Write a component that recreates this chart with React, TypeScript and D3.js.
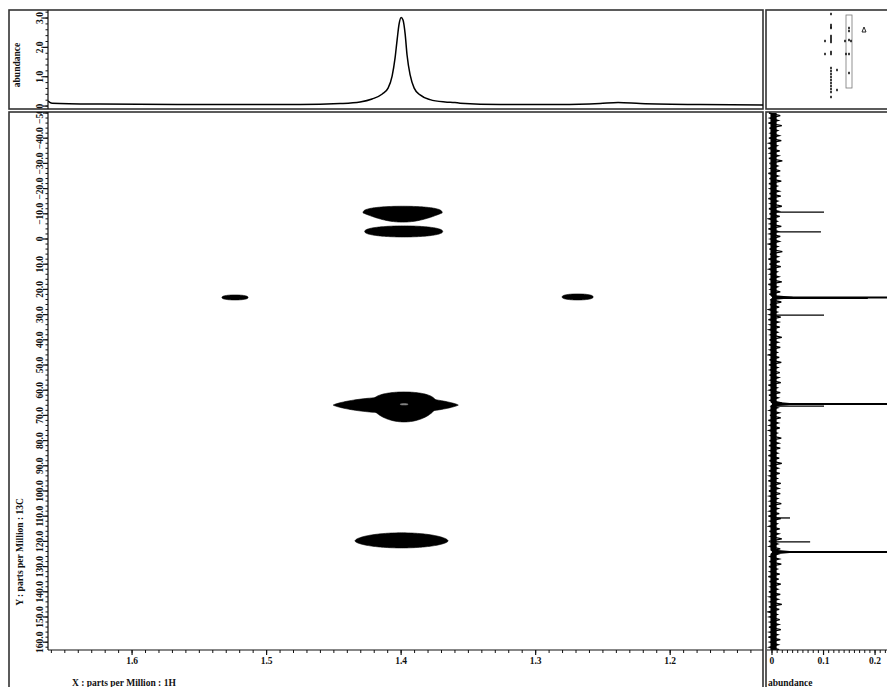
import React from "react";
import * as d3 from "d3";

// ---------------- data ----------------
const xTickValues = [1.6, 1.5, 1.4, 1.3, 1.2];
const xTickLabels = ["1.6", "1.5", "1.4", "1.3", "1.2"];
const yTickValues = [-50, -40, -30, -20, -10, 0, 10, 20, 30, 40, 50, 60, 70, 80, 90, 100, 110, 120, 130, 140, 150, 160];
const yTickLabels = ["−50.0", "−40.0", "−30.0", "−20.0", "−10.0", "0", "10.0", "20.0", "30.0", "40.0", "50.0", "60.0", "70.0", "80.0", "90.0", "100.0", "110.0", "120.0", "130.0", "140.0", "150.0", "160.0"];
const topTickValues = [0, 1, 2, 3];
const topTickLabels = ["0", "1.0", "2.0", "3.0"];
const projTickValues = [0, 0.1, 0.2];
const projTickLabels = ["0", "0.1", "0.2"];

// 1D 1H trace (ppm, abundance)
const traceX = [1.6625, 1.6595, 1.6238, 1.549, 1.475, 1.4454, 1.4305, 1.4216, 1.414, 1.4097, 1.4067, 1.4045, 1.403, 1.4015, 1.4, 1.3986, 1.397, 1.3956, 1.3933, 1.3903, 1.3859, 1.3785, 1.3673, 1.36, 1.3562, 1.3264, 1.2818, 1.2521, 1.2387, 1.2223, 1.1777, 1.131];
const traceY = [0.17, 0.1, 0.07, 0.05, 0.05, 0.085, 0.14, 0.24, 0.41, 0.61, 1.02, 1.64, 2.25, 2.8, 3.02, 2.93, 2.45, 1.74, 1.06, 0.61, 0.38, 0.22, 0.14, 0.12, 0.1, 0.05, 0.05, 0.085, 0.12, 0.085, 0.05, 0.04];

// 2D contour blobs (1H ppm, 13C ppm, half widths in ppm, shape exponents)
const contourX = [1.3989, 1.3981, 1.5235, 1.2688, 1.404, 1.3978, 1.3978, 1.3997];
const contourY = [-10.3, -3.0, 23.2, 23.0, 65.9, 66.3, 65.6, 119.8];
const contourHalfW = [0.0294, 0.029, 0.0097, 0.0115, 0.0465, 0.024, 0.003, 0.0346];
const contourTop = [2.7, 2.2, 1.0, 1.2, 3.2, 5.6, 0.3, 3.2];
const contourBottom = [3.6, 2.2, 1.0, 1.2, 3.2, 6.3, 0.3, 2.8];
const contourPowTop = [0.7, 0.9, 0.8, 0.8, 1.6, 0.6, 1, 1.15];
const contourPowBottom = [2.2, 0.9, 0.8, 0.8, 1.6, 1.3, 1, 1.15];
const contourFill = ["#000", "#000", "#000", "#000", "#000", "#000", "#888", "#000"];

// 13C projection peaks (ppm, abundance)
const projPeakPpm = [-10.7, -2.8, 23.2, 23.6, 30.2, 65.5, 66.3, 110.7, 120.2, 124.2];
const projPeakHeight = [0.101, 0.095, 0.6, 0.186, 0.101, 0.6, 0.101, 0.035, 0.074, 0.6];

// projection noise: upper and lower excursions, every 2 ppm from -50
const noiseHigh = [0.016, 0.012, 0.019, 0.011, 0.014, 0.018, 0.010, 0.015, 0.013, 0.020, 0.011, 0.016, 0.012, 0.018, 0.010, 0.014, 0.017, 0.011, 0.019, 0.013,
  0.015, 0.010, 0.018, 0.012, 0.016, 0.014, 0.011, 0.020, 0.012, 0.015, 0.017, 0.010, 0.013, 0.019, 0.011, 0.016, 0.012, 0.018, 0.014, 0.010,
  0.017, 0.013, 0.015, 0.011, 0.019, 0.012, 0.016, 0.010, 0.014, 0.018, 0.011, 0.015, 0.013, 0.017, 0.010, 0.016, 0.012, 0.019, 0.011, 0.014,
  0.017, 0.012, 0.015, 0.010, 0.018, 0.013, 0.016, 0.011, 0.014, 0.019, 0.012, 0.015, 0.010, 0.017, 0.013, 0.016, 0.011, 0.018, 0.012, 0.014,
  0.017, 0.010, 0.015, 0.013, 0.019, 0.011, 0.016, 0.012, 0.014, 0.018, 0.010, 0.015, 0.013, 0.017, 0.011, 0.016, 0.012, 0.019, 0.014, 0.010,
  0.015, 0.013, 0.017, 0.011, 0.016, 0.012, 0.014];
const noiseLow = [-0.006, -0.004, -0.007, -0.005, -0.003, -0.006, -0.005, -0.007, -0.004, -0.006, -0.005, -0.003, -0.007, -0.005, -0.006, -0.004, -0.005, -0.007, -0.003, -0.006,
  -0.005, -0.006, -0.004, -0.007, -0.005, -0.003, -0.006, -0.005, -0.004, -0.007, -0.005, -0.006, -0.004, -0.005, -0.007, -0.003, -0.006, -0.005, -0.004, -0.006,
  -0.005, -0.007, -0.004, -0.006, -0.003, -0.005, -0.006, -0.004, -0.007, -0.005, -0.006, -0.004, -0.005, -0.003, -0.007, -0.005, -0.006, -0.004, -0.006, -0.005,
  -0.004, -0.007, -0.005, -0.006, -0.003, -0.005, -0.006, -0.004, -0.007, -0.005, -0.004, -0.006, -0.005, -0.007, -0.003, -0.006, -0.005, -0.004, -0.006, -0.005,
  -0.007, -0.004, -0.006, -0.005, -0.003, -0.006, -0.005, -0.007, -0.004, -0.005, -0.006, -0.004, -0.007, -0.005, -0.003, -0.006, -0.005, -0.004, -0.006, -0.007,
  -0.005, -0.004, -0.006, -0.005, -0.007, -0.004, -0.005];

// small inset (pulse-sequence style marks), inset units
const insetDotU = [65, 65, 65, 65, 65, 65, 65, 65, 65, 65, 65, 65, 65, 65, 65, 65, 65, 65, 65, 65, 59, 59, 71, 71, 79, 85, 80, 83, 83, 83, 83, 83];
const insetDotV = [4, 15, 17, 18, 26, 28, 30, 32, 42, 44, 58, 61, 64, 67, 70, 73, 76, 79, 82, 87, 31, 44, 60, 80, 31, 31, 44, 18, 21, 30, 44, 63];

// ---------------- layout ----------------
const W = 887, H = 687;
const PL = 48, PR = 763, PT = 113, PB = 650;
const TT = 11, TB = 109;
const RL = 767, RR = 890;
const FONT = "'Liberation Serif', 'Times New Roman', serif";

export default function App() {
  const x = d3.scaleLinear().domain([1.6625, 1.131]).range([PL, PR]);
  const y = d3.scaleLinear().domain([-50, 163.1]).range([PT, PB]);
  const yTop = d3.scaleLinear().domain([-0.1, 3.24]).range([TB, TT]);
  const xProj = d3.scaleLinear().domain([-0.0097, 0.229]).range([RL, RR]);
  const insetX = d3.scaleLinear().domain([0, 124]).range([766, 890]);
  const insetY = d3.scaleLinear().domain([0, 99]).range([10, 109]);

  const tracePts = traceX.map((v, i) => [v, traceY[i]] as [number, number]);
  const traceLine = d3.line<[number, number]>()
    .x((d) => x(d[0]))
    .y((d) => yTop(d[1]))
    .curve(d3.curveMonotoneX)(tracePts) || "";

  const contourPath = (i: number) => {
    const n = 80;
    const top: [number, number][] = [];
    const bot: [number, number][] = [];
    for (let k = 0; k <= n; k++) {
      const t = Math.PI - (Math.PI * k) / n;
      const s = Math.max(0, Math.sin(t));
      const px = contourX[i] + contourHalfW[i] * Math.cos(t);
      top.push([x(px), y(contourY[i] - contourTop[i] * Math.pow(s, contourPowTop[i]))]);
      bot.push([x(px), y(contourY[i] + contourBottom[i] * Math.pow(s, contourPowBottom[i]))]);
    }
    const pts = top.concat(bot.reverse());
    return d3.line().curve(d3.curveLinearClosed)(pts) || "";
  };

  // zigzag noise trace
  const noisePts: [number, number][] = [];
  noiseHigh.forEach((v, i) => {
    noisePts.push([xProj(noiseLow[i]), y(-50 + 2 * i)]);
    noisePts.push([xProj(v), y(-49 + 2 * i)]);
  });
  const noisePath = d3.line()(noisePts) || "";
  const noiseCore = `M${xProj(-0.003)},${y(-50)} L${xProj(0.009)},${y(-50)} L${xProj(0.009)},${y(163.1)} L${xProj(-0.003)},${y(163.1)} Z`;

  const xMinor = d3.range(114, 167).map((v) => v / 100);
  const yMinor = d3.range(-50, 164, 2);
  const topMinor = d3.range(0, 17).map((v) => v / 5);
  const projMinor = d3.range(0, 23).map((v) => v / 100);

  const txt = { fontFamily: FONT, fontWeight: 700, fontSize: 9.5, fill: "#111" } as React.CSSProperties;
  const frame = { fill: "none", stroke: "#333", strokeWidth: 1.6 };

  return (
    <svg width={W} height={H} style={{ position: "absolute", left: 0, top: 0, background: "#fff" }}>
      <defs>
        <clipPath id="mainClip"><rect x={PL} y={PT - 1} width={PR - PL} height={PB - PT + 1} /></clipPath>
        <clipPath id="topClip"><rect x={PL} y={TT - 1} width={PR - PL} height={TB - TT + 1} /></clipPath>
        <clipPath id="projClip"><rect x={RL} y={PT - 1} width={RR - RL} height={PB - PT + 1} /></clipPath>
        <clipPath id="ylabClip"><rect x={0} y={112} width={PL} height={600} /></clipPath>
      </defs>
      <rect x={0} y={0} width={W} height={H} fill="#fff" />

      {/* frames */}
      <rect x={9} y={10} width={754} height={99} {...frame} />
      <rect x={9} y={112} width={754} height={600} {...frame} />
      <rect x={766} y={10} width={130} height={99} {...frame} />
      <rect x={766} y={112} width={130} height={600} {...frame} />

      {/* ---- top 1D panel ---- */}
      <line x1={PL} x2={PL} y1={10} y2={109} stroke="#111" strokeWidth={1.2} />
      {topMinor.map((v, i) => (
        <line key={"tm" + i} x1={PL - 2.5} x2={PL} y1={yTop(v)} y2={yTop(v)} stroke="#111" strokeWidth={1} />
      ))}
      {topTickValues.map((v, i) => (
        <g key={"tt" + i}>
          <line x1={PL - 5} x2={PL} y1={yTop(v)} y2={yTop(v)} stroke="#111" strokeWidth={1.2} />
          <text transform={`translate(43,${yTop(v)}) rotate(-90)`} textAnchor="middle" style={txt}>{topTickLabels[i]}</text>
        </g>
      ))}
      <text transform="translate(20,65) rotate(-90)" textAnchor="middle" style={txt}>abundance</text>
      <path d={traceLine} fill="none" stroke="#000" strokeWidth={1.5} clipPath="url(#topClip)" />

      {/* ---- main 2D panel ---- */}
      <g clipPath="url(#mainClip)">
        {contourX.map((_, i) => (
          <path key={"c" + i} d={contourPath(i)} fill={contourFill[i]} stroke={contourFill[i]} strokeWidth={0.6} />
        ))}
      </g>
      <line x1={PL} x2={PL} y1={112} y2={PB} stroke="#111" strokeWidth={1.2} />
      <line x1={PL} x2={PR} y1={PB} y2={PB} stroke="#111" strokeWidth={1.2} />
      {yMinor.map((v, i) => (
        <line key={"ym" + i} x1={PL - 2.5} x2={PL} y1={y(v)} y2={y(v)} stroke="#111" strokeWidth={1} />
      ))}
      <g clipPath="url(#ylabClip)">
        {yTickValues.map((v, i) => (
          <g key={"yt" + i}>
            <line x1={PL - 5} x2={PL} y1={y(v)} y2={y(v)} stroke="#111" strokeWidth={1.2} />
            <text transform={`translate(43,${y(v)}) rotate(-90)`} textAnchor="middle" style={txt}>{yTickLabels[i]}</text>
          </g>
        ))}
      </g>
      <text transform="translate(23,552) rotate(-90)" textAnchor="middle" style={txt}>Y : parts per Million : 13C</text>
      {xMinor.map((v, i) => (
        <line key={"xm" + i} x1={x(v)} x2={x(v)} y1={PB} y2={PB + 3} stroke="#111" strokeWidth={1} />
      ))}
      {xTickValues.map((v, i) => (
        <g key={"xt" + i}>
          <line x1={x(v)} x2={x(v)} y1={PB} y2={PB + 5} stroke="#111" strokeWidth={1.2} />
          <text x={x(v)} y={664} textAnchor="middle" style={txt}>{xTickLabels[i]}</text>
        </g>
      ))}
      <text x={72} y={686} style={txt}>X : parts per Million : 1H</text>

      {/* ---- right 13C projection ---- */}
      <g clipPath="url(#projClip)">
        <path d={noiseCore} fill="#000" />
        <path d={noisePath} fill="none" stroke="#000" strokeWidth={1.3} />
        {projPeakPpm.map((p, i) => projPeakHeight[i] > 0.3 ? (
          <g key={"pw" + i}>
            <path d={`M${xProj(-0.012)},${y(p - 2.8)} Q${xProj(-0.004)},${y(p - 0.6)} ${xProj(0.001)},${y(p)} Q${xProj(-0.004)},${y(p + 0.6)} ${xProj(-0.012)},${y(p + 2.8)} Z`} fill="#fff" />
            <path d={`M${xProj(0)},${y(p - 1.0)} L${xProj(0.04)},${y(p - 0.3)} L${xProj(0.04)},${y(p + 0.3)} L${xProj(0)},${y(p + 1.0)} Z`} fill="#000" />
          </g>
        ) : null)}
        {projPeakPpm.map((p, i) => (
          <line key={"pp" + i} x1={xProj(0)} x2={xProj(projPeakHeight[i])} y1={y(p)} y2={y(p)} stroke="#000" strokeWidth={projPeakHeight[i] > 0.3 ? 2 : 1.3} />
        ))}
      </g>
      <line x1={RL} x2={RR} y1={PB} y2={PB} stroke="#111" strokeWidth={1.2} />
      {projMinor.map((v, i) => (
        <line key={"pm" + i} x1={xProj(v)} x2={xProj(v)} y1={PB} y2={PB + 3} stroke="#111" strokeWidth={1} />
      ))}
      {projTickValues.map((v, i) => (
        <g key={"pt" + i}>
          <line x1={xProj(v)} x2={xProj(v)} y1={PB} y2={PB + 5} stroke="#111" strokeWidth={1.2} />
          <text x={xProj(v)} y={664} textAnchor="middle" style={txt}>{projTickLabels[i]}</text>
        </g>
      ))}
      <text x={768} y={686} style={txt}>abundance</text>

      {/* ---- inset ---- */}
      <rect x={insetX(80)} y={insetY(5)} width={insetX(86) - insetX(80)} height={insetY(78) - insetY(5)} fill="none" stroke="#777" strokeWidth={0.8} />
      {insetDotU.map((u, i) => (
        <rect key={"d" + i} x={insetX(u) - 0.8} y={insetY(insetDotV[i]) - 1.2} width={1.6} height={2.4} fill="#111" />
      ))}
      <path d={`M${insetX(98)},${insetY(17)} L${insetX(96)},${insetY(22)} L${insetX(100)},${insetY(22)} Z`} fill="none" stroke="#111" strokeWidth={0.9} />
    </svg>
  );
}
